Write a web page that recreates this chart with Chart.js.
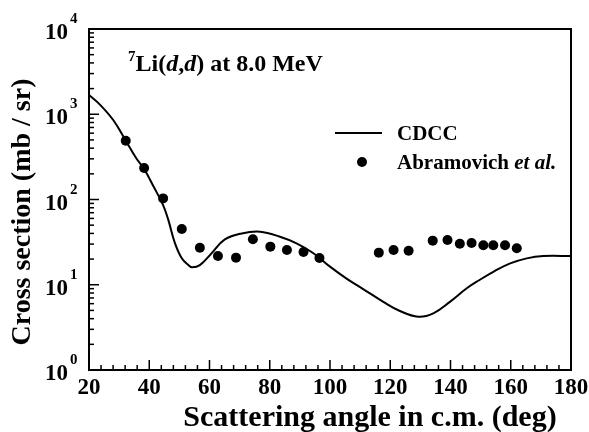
<!DOCTYPE html>
<html>
<head>
<meta charset="utf-8">
<script src="https://cdn.jsdelivr.net/npm/chart.js@4/dist/chart.umd.min.js"></script>
<style>
  html, body { margin: 0; padding: 0; background: #fff; }
  #wrap { width: 589px; height: 432px; position: relative; }
</style>
</head>
<body>
<div id="wrap"><canvas id="chart"></canvas></div>
<script>
// CDCC calculation
const angleCdcc = [20, 23.7, 28.1, 32.2, 35.8, 38.3, 41.3, 44.6, 46.3, 48.5, 50.8, 53.0, 54.3, 56.8, 60.7, 65.1, 70.7, 76.8, 83.4, 88.9, 94.5, 100, 105.5, 111, 117.7, 123.2, 129.3, 134.3, 139.8, 145.4, 149.5, 154.2, 159.8, 165.3, 170.8, 180];
const sigmaCdcc = [1680, 1290, 850, 490, 300, 228, 145, 86, 58, 31, 20.4, 17, 16, 17, 23.4, 34, 40, 41.9, 36.6, 30.6, 23.4, 16.3, 11.8, 8.9, 6.3, 4.92, 4.22, 4.62, 6.3, 9.1, 11.3, 14.2, 17.8, 20.4, 21.7, 21.7];

// Abramovich et al. data
const angleExp = [32.2, 38.3, 44.6, 50.8, 56.8, 62.8, 68.8, 74.4, 80.2, 85.7, 91.2, 96.5, 116.2, 121.1, 126.1, 134.1, 139.0, 143.1, 147.0, 150.9, 154.2, 158.1, 162.0];
const sigmaExp = [490, 234, 103, 45, 27.2, 21.7, 20.8, 34.1, 28.0, 25.6, 24.2, 20.6, 23.8, 25.6, 25.1, 32.9, 33.5, 30.3, 30.9, 29.0, 29.0, 29.0, 26.8];

const xMajorTicks = [20, 40, 60, 80, 100, 120, 140, 160, 180];
const xMinorStep = 4;
const yExponents = [0, 1, 2, 3, 4];

const serif = '"Liberation Serif", "Times New Roman", serif';

function drawRuns(ctx, runs, x, y) {
  let cx = x;
  runs.forEach(run => {
    ctx.font = run.font;
    ctx.fillText(run.text, cx, y + (run.dy || 0));
    cx += ctx.measureText(run.text).width;
  });
}

const framePlugin = {
  id: "framePlugin",
  afterDraw(chart) {
    const ctx = chart.ctx;
    const area = chart.chartArea;
    const xs = chart.scales.x;
    const ys = chart.scales.y;
    ctx.save();
    ctx.strokeStyle = "#000";
    ctx.fillStyle = "#000";

    // frame
    ctx.lineWidth = 2;
    ctx.strokeRect(area.left, area.top, area.right - area.left, area.bottom - area.top);

    // x ticks (inward)
    ctx.lineWidth = 1.5;
    for (let v = xs.min; v <= xs.max; v += xMinorStep) {
      const px = xs.getPixelForValue(v);
      const major = xMajorTicks.includes(v);
      ctx.beginPath();
      ctx.moveTo(px, area.bottom);
      ctx.lineTo(px, area.bottom - (major ? 10 : 5));
      ctx.stroke();
    }

    // y ticks (inward)
    yExponents.forEach(e => {
      for (let m = 1; m <= 9; m++) {
        const v = m * Math.pow(10, e);
        if (v > ys.max) break;
        const py = ys.getPixelForValue(v);
        ctx.beginPath();
        ctx.moveTo(area.left, py);
        ctx.lineTo(area.left + (m === 1 ? 10 : 5), py);
        ctx.stroke();
      }
    });

    // x tick labels
    ctx.font = "bold 23px " + serif;
    ctx.textAlign = "center";
    ctx.textBaseline = "alphabetic";
    xMajorTicks.forEach(v => {
      ctx.fillText(String(v), xs.getPixelForValue(v), area.bottom + 24);
    });

    // y tick labels 10^n
    ctx.textAlign = "left";
    yExponents.forEach(e => {
      const py = ys.getPixelForValue(Math.pow(10, e));
      ctx.font = "bold 23px " + serif;
      const bw = ctx.measureText("10").width;
      ctx.fillText("10", 68 - bw, py + 10);
      ctx.font = "bold 15px " + serif;
      ctx.fillText(String(e), 70, py - 6);
    });

    // axis titles
    ctx.font = "bold 30px " + serif;
    ctx.textAlign = "center";
    ctx.fillText("Scattering angle in c.m. (deg)", 370, 426);
    ctx.font = "bold 28px " + serif;
    ctx.save();
    ctx.translate(30, 212);
    ctx.rotate(-Math.PI / 2);
    ctx.fillText("Cross section (mb / sr)", 0, 0);
    ctx.restore();

    // title
    ctx.textAlign = "left";
    const b24 = "bold 24px " + serif;
    const bi24 = "italic bold 24px " + serif;
    drawRuns(ctx, [
      { text: "7", font: "bold 15px " + serif, dy: -10 },
      { text: "Li(", font: b24 },
      { text: "d", font: bi24 },
      { text: ",", font: b24 },
      { text: "d", font: bi24 },
      { text: ") at 8.0 MeV", font: b24 }
    ], 128, 71);

    // legend
    ctx.lineWidth = 2;
    ctx.beginPath();
    ctx.moveTo(335, 133);
    ctx.lineTo(382, 133);
    ctx.stroke();
    ctx.beginPath();
    ctx.arc(362, 162, 5, 0, Math.PI * 2);
    ctx.fill();
    const b21 = "bold 21px " + serif;
    drawRuns(ctx, [{ text: "CDCC", font: b21 }], 397, 140);
    drawRuns(ctx, [
      { text: "Abramovich ", font: b21 },
      { text: "et al.", font: "italic bold 21px " + serif }
    ], 397, 169);
    ctx.restore();
  }
};

const cdccPoints = angleCdcc.map((a, i) => ({ x: a, y: sigmaCdcc[i] }));
const expPoints = angleExp.map((a, i) => ({ x: a, y: sigmaExp[i] }));

new Chart(document.getElementById("chart"), {
  type: "scatter",
  data: {
    datasets: [
      {
        label: "CDCC",
        data: cdccPoints,
        showLine: true,
        borderColor: "#000",
        borderWidth: 2,
        pointRadius: 0,
        tension: 0.4
      },
      {
        label: "Abramovich et al.",
        data: expPoints,
        backgroundColor: "#000",
        borderColor: "#000",
        pointRadius: 5,
        borderWidth: 0
      }
    ]
  },
  options: {
    responsive: true,
    maintainAspectRatio: false,
    animation: false,
    layout: { padding: { left: 0, right: 18, top: 29, bottom: 0 } },
    plugins: {
      legend: { display: false },
      tooltip: { enabled: false }
    },
    scales: {
      x: {
        type: "linear",
        min: 20,
        max: 180,
        ticks: { display: false },
        grid: { display: false },
        border: { display: false },
        afterFit: s => { s.height = 62; }
      },
      y: {
        type: "logarithmic",
        min: 1,
        max: 10000,
        ticks: { display: false },
        grid: { display: false },
        border: { display: false },
        afterFit: s => { s.width = 89; }
      }
    }
  },
  plugins: [framePlugin]
});
</script>
</body>
</html>
